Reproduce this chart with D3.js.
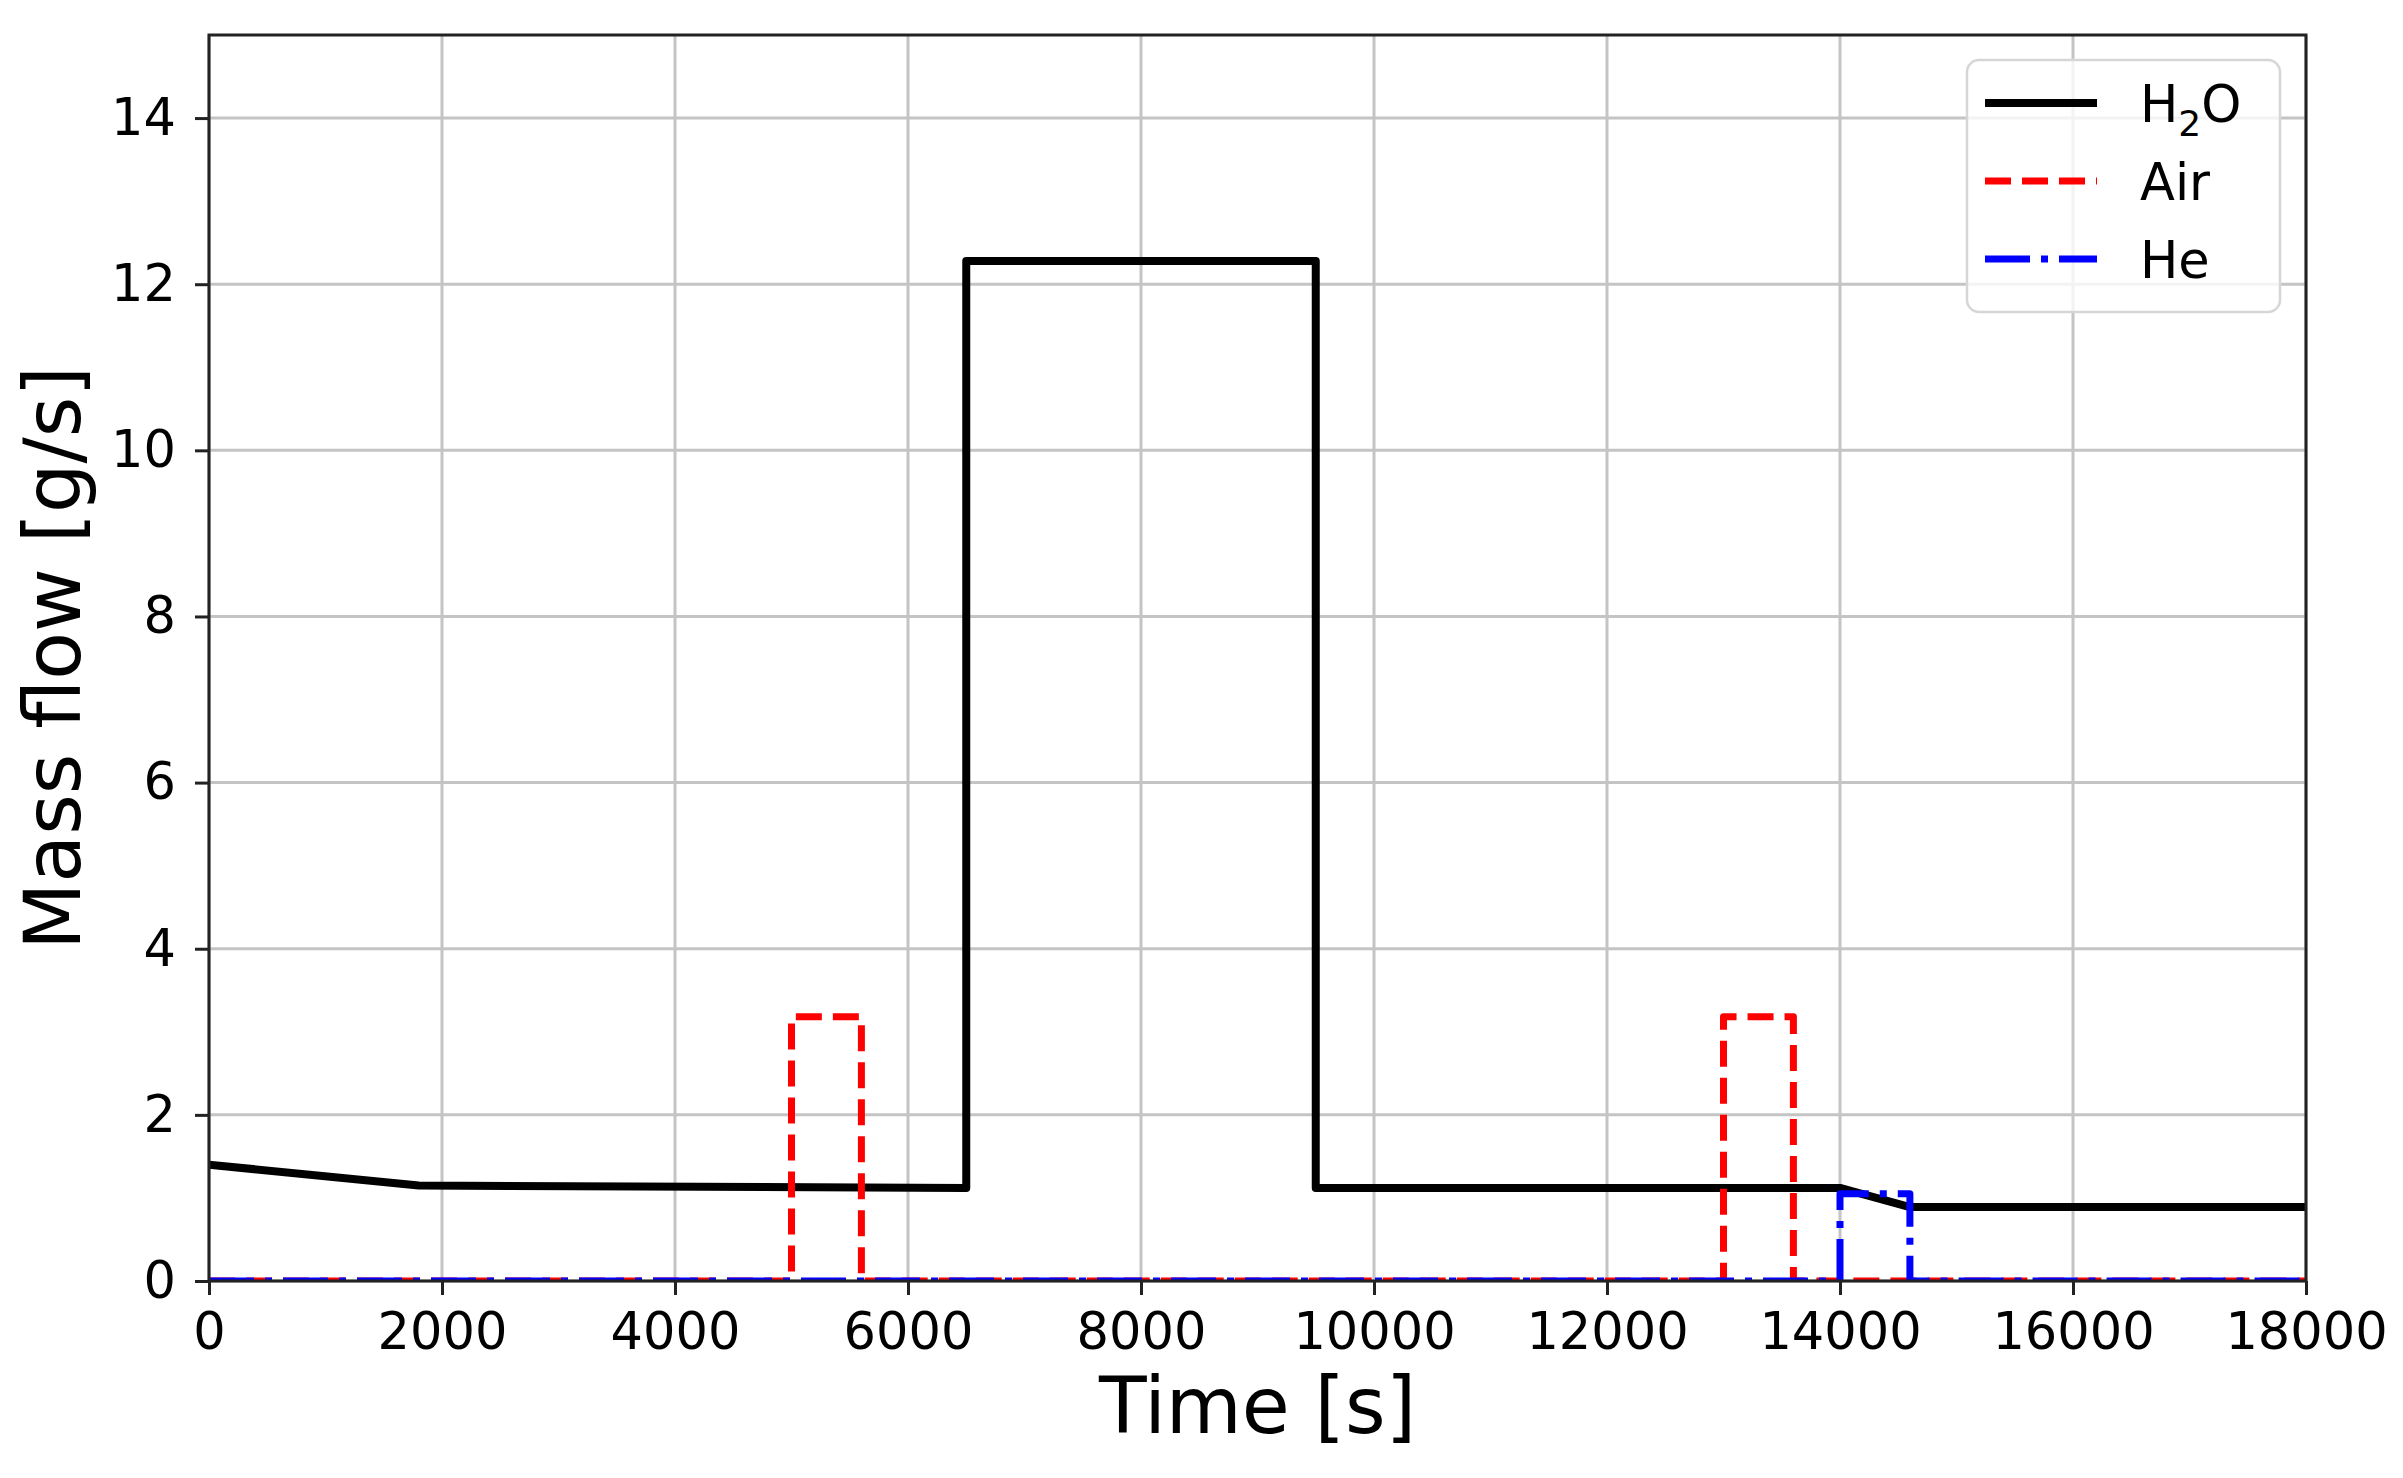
<!DOCTYPE html>
<html>
<head>
<meta charset="utf-8">
<script src="https://cdn.jsdelivr.net/npm/d3@7/dist/d3.min.js"></script>
<style>
  html, body { margin: 0; padding: 0; background: #fff; }
  svg { display: block; }
  text { font-family: "DejaVu Sans", "Liberation Sans", sans-serif; fill: #000; }
</style>
</head>
<body>
<svg id="chart" width="2403" height="1478"></svg>
<script>
// ---- data ----
const timeH2O = [0, 1800, 6500, 6500, 9500, 9500, 14000, 14600, 18000];
const flowH2O = [1.40, 1.15, 1.12, 12.28, 12.28, 1.12, 1.12, 0.89, 0.89];

const timeAir = [0, 5000, 5000, 5600, 5600, 13000, 13000, 13600, 13600, 18000];
const flowAir = [0, 0, 3.18, 3.18, 0, 0, 3.18, 3.18, 0, 0];

const timeHe = [0, 14000, 14000, 14600, 14600, 18000];
const flowHe = [0, 0, 1.05, 1.05, 0, 0];

const xTicks = [0, 2000, 4000, 6000, 8000, 10000, 12000, 14000, 16000, 18000];
const yTicks = [0, 2, 4, 6, 8, 10, 12, 14];

const seriesNames = ["H2O", "Air", "He"];
const seriesColors = ["#000000", "#ff0000", "#0000ff"];

// ---- layout ----
const W = 2403, H = 1478;
const plot = { left: 209, right: 2306, top: 35, bottom: 1281 };
const FS = 51;

const svg = d3.select("#chart");
const x = d3.scaleLinear().domain([0, 18000]).range([plot.left, plot.right]);
const y = d3.scaleLinear().domain([0, 15]).range([plot.bottom, plot.top]);

// clip
svg.append("defs").append("clipPath").attr("id", "clip")
  .append("rect")
  .attr("x", plot.left).attr("y", plot.top)
  .attr("width", plot.right - plot.left).attr("height", plot.bottom - plot.top);

// grid
const grid = svg.append("g");
grid.selectAll("line.gx").data(xTicks).join("line")
  .attr("x1", d => x(d)).attr("x2", d => x(d))
  .attr("y1", plot.top).attr("y2", plot.bottom)
  .attr("stroke", "#c4c4c4").attr("stroke-width", 3);
grid.selectAll("line.gy").data(yTicks).join("line")
  .attr("y1", d => y(d)).attr("y2", d => y(d))
  .attr("x1", plot.left).attr("x2", plot.right)
  .attr("stroke", "#c4c4c4").attr("stroke-width", 3);

// lines
const series = [
  { t: timeH2O, v: flowH2O, color: seriesColors[0], width: 8, dash: null },
  { t: timeAir, v: flowAir, color: seriesColors[1], width: 7, dash: "26,11" },
  { t: timeHe,  v: flowHe,  color: seriesColors[2], width: 7, dash: "45,11,7,11" }
];
const lineGen = d3.line().x(d => x(d[0])).y(d => y(d[1]));
const lg = svg.append("g").attr("clip-path", "url(#clip)");
series.forEach(s => {
  const pts = s.t.map((t, i) => [t, s.v[i]]);
  lg.append("path")
    .attr("d", lineGen(pts))
    .attr("fill", "none")
    .attr("stroke", s.color)
    .attr("stroke-width", s.width)
    .attr("stroke-linejoin", "round")
    .attr("stroke-linecap", s.dash ? "butt" : "round")
    .attr("stroke-dasharray", s.dash);
});

// frame
svg.append("rect")
  .attr("x", plot.left).attr("y", plot.top)
  .attr("width", plot.right - plot.left).attr("height", plot.bottom - plot.top)
  .attr("fill", "none").attr("stroke", "#222").attr("stroke-width", 3);

// axes
const xAxis = d3.axisBottom(x).tickValues(xTicks).tickFormat(d3.format("d"))
  .tickSize(14).tickPadding(18);
const gx = svg.append("g").attr("transform", `translate(0,${plot.bottom})`).call(xAxis);
gx.select(".domain").remove();
gx.selectAll(".tick line").attr("stroke", "#222").attr("stroke-width", 3);
gx.selectAll(".tick text").attr("font-size", FS).attr("font-family", "DejaVu Sans").attr("fill", "#000");

const yAxis = d3.axisLeft(y).tickValues(yTicks).tickFormat(d3.format("d"))
  .tickSize(14).tickPadding(19);
const gy = svg.append("g").attr("transform", `translate(${plot.left},0)`).call(yAxis);
gy.select(".domain").remove();
gy.selectAll(".tick line").attr("stroke", "#222").attr("stroke-width", 3);
gy.selectAll(".tick text").attr("font-size", FS).attr("font-family", "DejaVu Sans").attr("fill", "#000");

// axis titles
svg.append("text")
  .attr("x", (plot.left + plot.right) / 2).attr("y", 1433)
  .attr("text-anchor", "middle").attr("font-size", 78)
  .text("Time [s]");
svg.append("text")
  .attr("transform", `translate(80,${(plot.top + plot.bottom) / 2}) rotate(-90)`)
  .attr("text-anchor", "middle").attr("font-size", 78)
  .text("Mass flow [g/s]");

// legend
const leg = svg.append("g");
leg.append("rect")
  .attr("x", 1967).attr("y", 60).attr("width", 313).attr("height", 252)
  .attr("rx", 12).attr("ry", 12)
  .attr("fill", "#fff").attr("fill-opacity", 0.8)
  .attr("stroke", "#d6d6d6").attr("stroke-width", 2.5);
const rowY = [103, 181, 259];
series.forEach((s, i) => {
  leg.append("line")
    .attr("x1", 1985).attr("x2", 2097)
    .attr("y1", rowY[i]).attr("y2", rowY[i])
    .attr("stroke", s.color).attr("stroke-width", s.width)
    .attr("stroke-linecap", "butt")
    .attr("stroke-dasharray", s.dash);
  const t = leg.append("text")
    .attr("x", 2140).attr("y", rowY[i] + 19)
    .attr("font-size", FS);
  if (seriesNames[i] === "H2O") {
    t.append("tspan").text("H");
    t.append("tspan").attr("font-size", 36).attr("dy", 14).text("2");
    t.append("tspan").attr("dy", -14).text("O");
  } else {
    t.text(seriesNames[i]);
  }
});
</script>
</body>
</html>
